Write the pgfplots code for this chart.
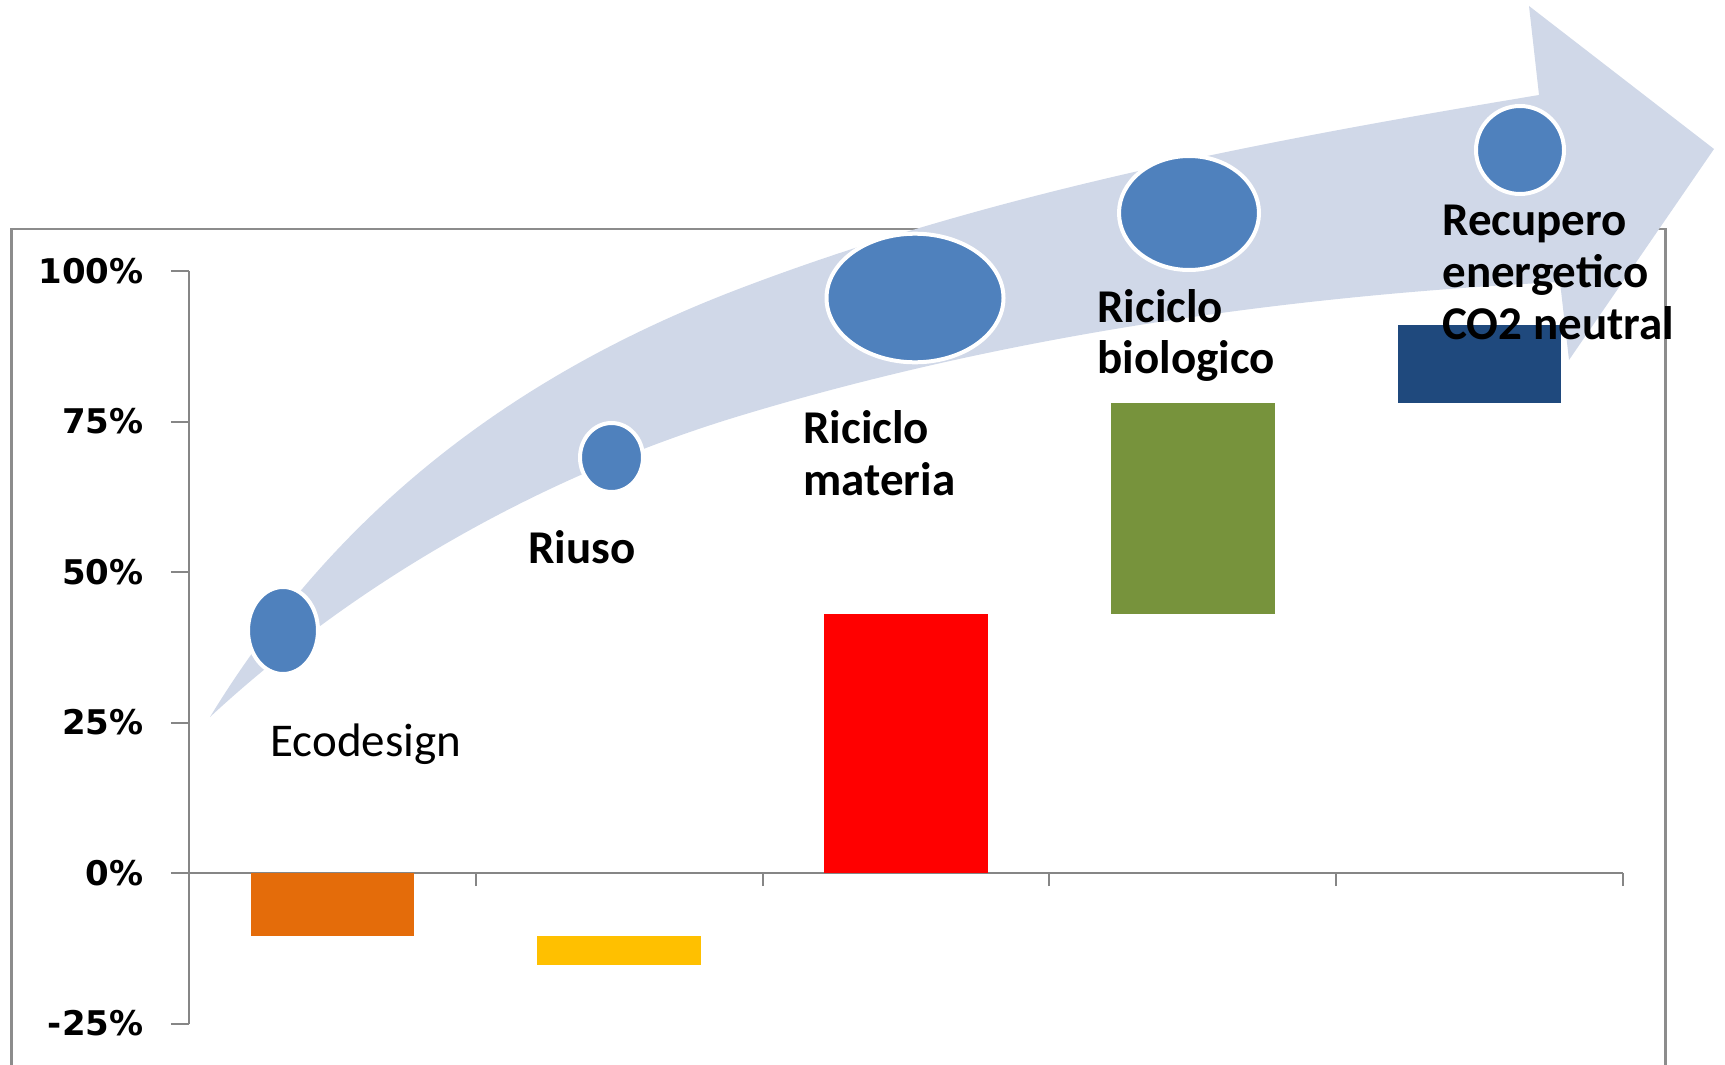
\documentclass[border=0pt]{standalone}
\usepackage{pgfplots}
\pgfplotsset{compat=1.18}
\usepackage{pgfplotstable}
\usepackage{fontspec}
\setmainfont{Carlito}
\newfontfamily\tickfont{DejaVu Sans}

\definecolor{arrowfill}{HTML}{D0D8E8}
\definecolor{dotblue}{HTML}{4F81BD}
\definecolor{axisgray}{HTML}{868686}
\definecolor{framegray}{HTML}{8C8C8C}
\definecolor{cEco}{HTML}{E46C0A}
\definecolor{cRiuso}{HTML}{FFC000}
\definecolor{cMat}{HTML}{FF0000}
\definecolor{cBio}{HTML}{77933C}
\definecolor{cRec}{HTML}{1F497D}

% floating bars: invisible base + one visible step per category
\pgfplotstableread{
x base  eco   riuso materia bio recupero
1 0     -10.4 0     0       0   0
2 -10.4 0     -4.9  0       0   0
3 0     0     0     43      0   0
4 43    0     0     0       35  0
5 78    0     0     0       0   13
}\floatbars

\begin{document}
\begin{tikzpicture}
\path[use as bounding box] (0,0) rectangle (862.5pt,-532.5pt);
\clip (0,0) rectangle (862.5pt,-532.5pt);

% decoration, in pixel units of the reference (y down)
\begin{scope}[x=0.5pt, y=-0.5pt]
  \draw[framegray, line width=1.3pt] (11.5,1090) -- (11.5,229) -- (1665.5,229) -- (1665.5,1090);
  % curved arrow
  \fill[arrowfill] (210,717) .. controls (335,512) and (512,376) .. (736,290)
    .. controls (993,191.5) and (1268,140) .. (1539,95)
    -- (1529,6) -- (1714,149) -- (1569,360) -- (1560,282)
    .. controls (1282,296) and (1002,336) .. (736,417)
    .. controls (543,476) and (358,580) .. (210,717) -- cycle;
  \filldraw[fill=dotblue, draw=white, line width=2pt] (283,630.5) ellipse [x radius=35, y radius=43.5];
  \filldraw[fill=dotblue, draw=white, line width=2pt] (611.5,457.5) ellipse [x radius=31.5, y radius=34.5];
  \filldraw[fill=dotblue, draw=white, line width=2pt] (915,298) ellipse [x radius=88.5, y radius=64.3];
  \filldraw[fill=dotblue, draw=white, line width=2pt] (1189,213) ellipse [x radius=70, y radius=57];
  \filldraw[fill=dotblue, draw=white, line width=2pt] (1520,150) ellipse [x radius=44, y radius=44];
\end{scope}

\begin{axis}[
  at={(94.5pt,-511.75pt)}, anchor=south west,
  scale only axis, width=717pt, height=376.25pt,
  xmin=0.5, xmax=5.5, ymin=-25, ymax=100,
  ybar stacked, bar width=0.57,
  axis y line*=left, axis x line*=middle,
  axis line style={axisgray, line width=1pt},
  xtick={1.5,2.5,3.5,4.5,5.5}, xticklabels={},
  ytick={-25,0,25,50,75,100},
  yticklabels={-25\%,0\%,25\%,50\%,75\%,100\%},
  tick align=outside,
  tick style={axisgray, line width=1pt},
  xtick style={/pgfplots/major tick length=6.5pt},
  ytick style={/pgfplots/major tick length=9pt},
  yticklabel style={font=\tickfont\bfseries\fontsize{17}{20}\selectfont, xshift=-15pt},
  clip=false,
]
\addplot[draw=none, fill=none] table[x=x, y=base] {\floatbars};
\addplot[draw=none, fill=cEco] table[x=x, y=eco] {\floatbars};
\addplot[draw=none, fill=cRiuso] table[x=x, y=riuso] {\floatbars};
\addplot[draw=none, fill=cMat] table[x=x, y=materia] {\floatbars};
\addplot[draw=none, fill=cBio] table[x=x, y=bio] {\floatbars};
\addplot[draw=none, fill=cRec] table[x=x, y=recupero] {\floatbars};
\end{axis}

% step labels
\begin{scope}[x=0.5pt, y=-0.5pt, every node/.style={anchor=base west, inner sep=0pt, font=\bfseries\fontsize{23.5}{26}\selectfont}]
  \node[font=\fontsize{23.5}{26}\selectfont] at (270,756) {Ecodesign};
  \node at (528,563) {Riuso};
  \node at (803,443.5) {Riciclo};
  \node at (803,495.2) {materia};
  \node at (1097,322) {Riciclo};
  \node at (1097,373.7) {biologico};
  \node at (1442,235) {Recupero};
  \node at (1442,287) {energetico};
  \node at (1442,339) {CO2 neutral};
\end{scope}
\end{tikzpicture}
\end{document}
